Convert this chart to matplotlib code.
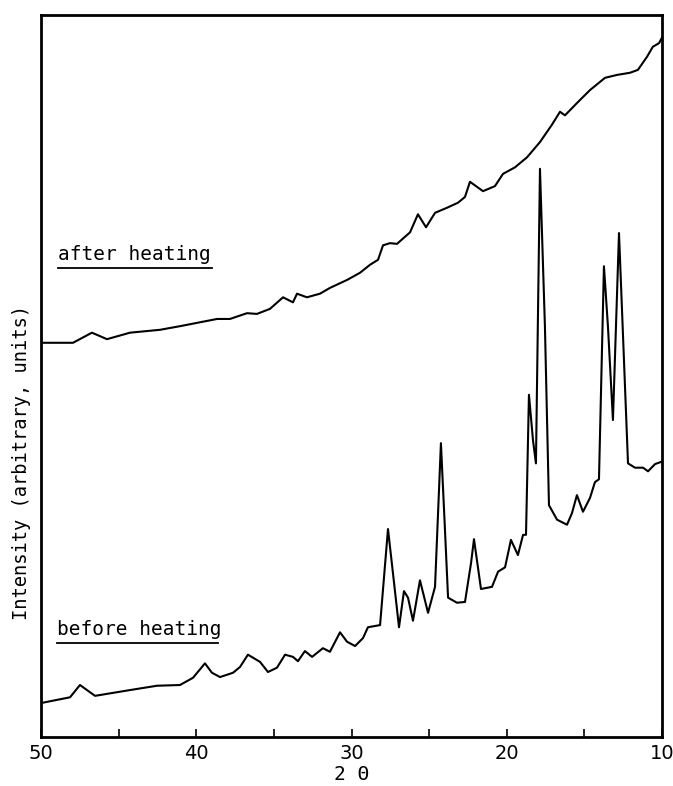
import matplotlib
matplotlib.use("Agg")
from matplotlib import pyplot as plt

# before heating: 2theta (deg) and intensity (arbitrary units, 0-100 of the frame)
before_2theta = [50.0, 48.13, 47.49, 46.52, 44.27, 42.53, 41.05, 40.21, 39.44, 38.99,
                 38.47, 37.63, 37.18, 36.67, 35.89, 35.38, 34.80, 34.28, 33.77, 33.45,
                 33.00, 32.54, 31.84, 31.39, 30.74, 30.29, 29.77, 29.26, 28.94, 28.16,
                 27.65, 27.33, 26.94, 26.62, 26.36, 26.04, 25.59, 25.07, 24.62, 24.24,
                 23.98, 23.78, 23.21, 22.69, 22.30, 22.11, 21.66, 20.95, 20.56, 20.11,
                 19.73, 19.28, 18.95, 18.76, 18.57, 18.31, 18.12, 17.86, 17.54, 17.28,
                 16.76, 16.12, 15.80, 15.48, 15.09, 14.64, 14.32, 14.06, 13.74, 13.48,
                 13.16, 12.77, 12.45, 12.19, 11.74, 11.22, 10.90, 10.45, 10.06]
before_int = [4.7, 5.5, 7.2, 5.7, 6.5, 7.1, 7.2, 8.2, 10.2, 8.9,
              8.3, 8.9, 9.7, 11.4, 10.4, 9.0, 9.6, 11.4, 11.1, 10.5,
              11.9, 11.1, 12.3, 11.8, 14.5, 13.2, 12.6, 13.7, 15.2, 15.5,
              28.8, 22.7, 15.2, 20.2, 19.3, 16.1, 21.7, 17.2, 20.8, 40.7,
              28.7, 19.3, 18.6, 18.7, 24.1, 27.4, 20.5, 20.8, 22.9, 23.5,
              27.3, 25.2, 28.0, 28.0, 47.4, 41.1, 37.9, 78.7, 56.8, 32.1,
              30.1, 29.4, 31.0, 33.5, 31.2, 33.1, 35.3, 35.7, 65.2, 56.8,
              43.9, 69.8, 52.2, 37.9, 37.3, 37.3, 36.8, 37.8, 38.1]

# after heating
after_2theta = [49.87, 47.94, 46.72, 45.75, 44.27, 42.33, 41.05, 38.66, 37.83, 36.73,
                36.09, 35.25, 34.41, 33.77, 33.51, 32.87, 32.03, 31.39, 30.29, 29.45,
                28.81, 28.29, 27.97, 27.52, 27.07, 26.23, 25.72, 25.20, 24.62, 23.85,
                23.14, 22.69, 22.37, 21.53, 20.76, 20.24, 19.47, 18.69, 17.86, 17.09,
                16.57, 16.25, 15.48, 14.64, 13.67, 12.90, 12.06, 11.55, 10.97, 10.59,
                10.19, 10.02]
after_int = [54.6, 54.6, 56.0, 55.1, 56.0, 56.4, 56.9, 57.9, 57.9, 58.7,
             58.6, 59.3, 60.9, 60.2, 61.4, 60.9, 61.4, 62.2, 63.3, 64.3,
             65.4, 66.1, 68.1, 68.4, 68.3, 69.9, 72.4, 70.6, 72.6, 73.3,
             74.0, 74.8, 76.9, 75.6, 76.3, 78.0, 78.9, 80.3, 82.4, 84.8,
             86.6, 86.1, 87.8, 89.6, 91.3, 91.7, 92.0, 92.4, 94.2, 95.6,
             96.1, 96.8]

x_ticks = [50, 40, 30, 20, 10]
x_minor = [45, 35, 25, 15]

mono = "DejaVu Sans Mono"

fig = plt.figure(figsize=(6.73, 7.86), dpi=100)
ax = fig.add_axes([41/673, 1-737/786, 621/673, 722/786])

ax.plot(before_2theta, before_int, color="black", lw=1.5)
ax.plot(after_2theta, after_int, color="black", lw=1.5)

ax.set_xlim(50, 10)
ax.set_ylim(0, 100)
ax.set_xticks(x_ticks)
ax.set_xticks(x_minor, minor=True)
ax.set_xticklabels([str(t) for t in x_ticks])
ax.set_yticks([])
ax.tick_params(axis="x", which="both", direction="in", length=6, width=1.2,
               pad=5, labelsize=14)
for s in ax.spines.values():
    s.set_linewidth(2)

# labels under curves
ax.text(0.027, 0.661, "after heating", transform=ax.transAxes, fontsize=14,
        family=mono, ha="left", va="baseline")
ax.plot([0.027, 0.275], [0.649, 0.649], transform=ax.transAxes, color="black", lw=1.3)
ax.text(0.026, 0.141, "before heating", transform=ax.transAxes, fontsize=14,
        family=mono, ha="left", va="baseline")
ax.plot([0.026, 0.285], [0.13, 0.13], transform=ax.transAxes, color="black", lw=1.3)

fig.text(352/673, 1-775/786, "2 Θ", fontsize=14, family=mono, ha="center", va="center")
fig.text(22/673, 1-463/786, "Intensity (arbitrary, units)", fontsize=13.5,
         family=mono, rotation=90, ha="center", va="center")

fig.savefig("out.png", dpi=100)
